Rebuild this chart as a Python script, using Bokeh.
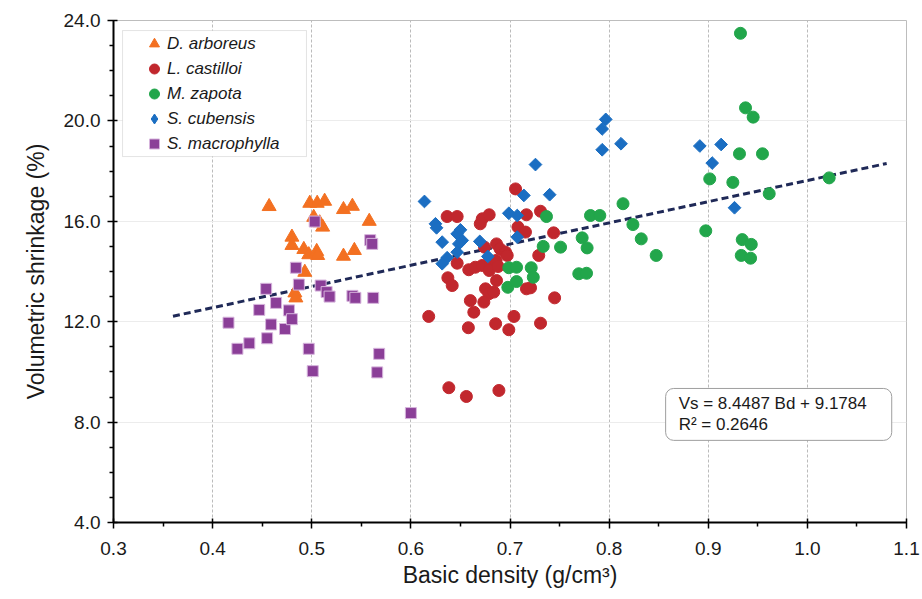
import numpy as np
from bokeh.plotting import figure
from bokeh.models import (Legend, LegendItem, FixedTicker, Label, Range1d,
                          PrintfTickFormatter, BoxAnnotation)
from bokeh.embed import file_html
from bokeh.resources import INLINE

# ---- data ----
arb_x = [0.457, 0.498, 0.5055, 0.513, 0.502, 0.508, 0.511, 0.532, 0.541, 0.558,
         0.480, 0.480, 0.492, 0.497, 0.505, 0.506, 0.532, 0.543, 0.493, 0.483, 0.484]
arb_y = [16.59, 16.72, 16.72, 16.80, 16.16, 15.94, 15.77, 16.47, 16.60, 16.0,
         15.37, 15.04, 14.88, 14.67, 14.80, 14.64, 14.61, 14.84, 13.97, 13.15, 12.95]

cas_x = [0.7056, 0.6366, 0.6467, 0.672, 0.679, 0.670, 0.7166, 0.7308, 0.708, 0.7156,
         0.744, 0.6864, 0.690, 0.6955, 0.6972, 0.6743, 0.6467, 0.6584, 0.665, 0.672,
         0.680, 0.679, 0.686, 0.688, 0.729, 0.6373, 0.6417, 0.6864, 0.6753, 0.6787,
         0.6836, 0.6736, 0.660, 0.6635, 0.7166, 0.7207, 0.745, 0.618, 0.658, 0.6855,
         0.6988, 0.704, 0.7308, 0.6383, 0.656, 0.6888]
cas_y = [17.29, 16.19, 16.19, 16.10, 16.26, 15.90, 16.26, 16.40, 15.77, 15.57,
         15.54, 15.10, 14.90, 14.77, 14.64, 14.97, 14.33, 14.07, 14.17, 14.24,
         14.31, 14.04, 14.44, 14.20, 14.64, 13.75, 13.44, 13.64, 13.31, 13.11,
         13.18, 12.78, 12.84, 12.38, 13.31, 13.35, 12.95, 12.21, 11.76, 11.92,
         11.68, 12.21, 11.94, 9.37, 9.02, 9.26]

zap_x = [0.7368, 0.7812, 0.7906, 0.7335, 0.751, 0.7728, 0.7778, 0.6988, 0.7066, 0.6978,
         0.7066, 0.7214, 0.7235, 0.7694, 0.7772, 0.814, 0.824, 0.8324, 0.8475, 0.9015,
         0.9248, 0.8975, 0.9343, 0.9434, 0.9333, 0.9427, 0.9315, 0.9547, 0.9615, 1.022,
         0.9325, 0.9376, 0.9453]
zap_y = [16.19, 16.23, 16.23, 15.0, 14.97, 15.34, 14.94, 14.15, 14.17, 13.37,
         13.60, 14.15, 13.77, 13.91, 13.93, 16.70, 15.87, 15.30, 14.64, 17.69,
         17.55, 15.62, 15.27, 15.08, 14.64, 14.53, 18.69, 18.69, 17.10, 17.73,
         23.49, 20.52, 20.15]

cub_x = [0.6137, 0.6248, 0.6259, 0.6316, 0.6467, 0.650, 0.6518, 0.6484, 0.6467, 0.6366,
         0.6316, 0.6695, 0.6776, 0.6988, 0.7073, 0.7073, 0.714, 0.740, 0.7257, 0.7966,
         0.793, 0.812, 0.793, 0.8915, 0.913, 0.904, 0.9265]
cub_y = [16.79, 15.90, 15.74, 15.17, 15.50, 15.66, 15.24, 15.10, 14.77, 14.55,
         14.31, 15.20, 14.60, 16.32, 16.23, 15.37, 17.03, 17.06, 18.26, 20.06,
         19.68, 19.09, 18.85, 19.0, 19.06, 18.32, 16.54]

mac_x = [0.416, 0.425, 0.437, 0.447, 0.454, 0.455, 0.459, 0.464, 0.473, 0.477,
         0.480, 0.484, 0.487, 0.497, 0.501, 0.503, 0.509, 0.515, 0.518, 0.541,
         0.544, 0.559, 0.561, 0.562, 0.566, 0.568, 0.600]
mac_y = [11.96, 10.92, 11.14, 12.47, 13.31, 11.34, 11.89, 12.75, 11.71, 12.45,
         12.10, 14.15, 13.48, 10.92, 10.03, 15.99, 13.44, 13.18, 13.0, 13.03,
         12.95, 15.25, 15.1, 12.95, 9.98, 10.72, 8.36]

series_names = ["D. arboreus", "L. castilloi", "M. zapota", "S. cubensis", "S. macrophylla"]

fit_slope = 8.4487
fit_intercept = 9.1784
fit_r2 = 0.2646
fit_x = [0.36, 1.08]

x_ticks = [0.3, 0.4, 0.5, 0.6, 0.7, 0.8, 0.9, 1.0, 1.1]
y_ticks = [4, 8, 12, 16, 20, 24]

FONT = "Liberation Sans"
C_ARB, C_CAS, C_ZAP, C_CUB, C_MAC = "#F37021", "#C1272D", "#22A64B", "#1B6EC2", "#8B3F98"

p = figure(width=920, height=591, x_range=Range1d(0.3, 1.1), y_range=Range1d(4, 24),
           output_backend="svg", toolbar_location=None,
           min_border_left=113, min_border_right=14, min_border_top=20,
           min_border_bottom=69)
p.background_fill_color = "white"
p.border_fill_color = "white"
p.outline_line_color = "#BDBDBD"
p.outline_line_width = 1

# grids
p.xgrid.ticker = FixedTicker(ticks=x_ticks[1:-1])
p.xgrid.grid_line_color = "#BBBBBB"
p.xgrid.grid_line_dash = "3 2"
p.xgrid.grid_line_width = 1
p.ygrid.ticker = FixedTicker(ticks=y_ticks[1:-1])
p.ygrid.grid_line_color = "#ECECEC"
p.ygrid.grid_line_width = 1

# axes
p.xaxis.ticker = FixedTicker(ticks=x_ticks,
                             minor_ticks=[round(t + 0.05, 2) for t in x_ticks[:-1]])
p.yaxis.ticker = FixedTicker(ticks=y_ticks,
                             minor_ticks=[v for v in range(4, 25) if v % 4])
p.xaxis.formatter = PrintfTickFormatter(format="%.1f")
p.yaxis.formatter = PrintfTickFormatter(format="%.1f")
for ax in (p.xaxis, p.yaxis):
    ax.axis_line_color = "black"
    ax.axis_line_width = 2
    ax.major_tick_line_color = "black"
    ax.major_tick_line_width = 1.5
    ax.minor_tick_line_color = "black"
    ax.minor_tick_line_width = 1.5
    ax.major_tick_in = 4
    ax.major_tick_out = 6
    ax.minor_tick_in = 0
    ax.minor_tick_out = 4
    ax.major_label_text_font = FONT
    ax.major_label_text_font_size = "19px"
    ax.major_label_text_color = "#1a1a1a"
    ax.axis_label_text_font = FONT
    ax.axis_label_text_font_size = "23px"
    ax.axis_label_text_font_style = "normal"
    ax.axis_label_text_color = "#1a1a1a"
p.xaxis.axis_label = "Basic density (g/cm\u00b3)"
p.yaxis.axis_label = "Volumetric shrinkage (%)"
p.xaxis.major_label_standoff = 13
p.xaxis.axis_label_standoff = 4
p.yaxis.major_label_standoff = 7
p.yaxis.axis_label_standoff = 12

# trend line
fit_y = [fit_slope * v + fit_intercept for v in fit_x]
p.line(fit_x, fit_y, line_color="#1F2957", line_width=3, line_dash="7 4")

# series
r_arb = p.scatter(arb_x, arb_y, marker="triangle", size=14, fill_color=C_ARB,
                  line_color=C_ARB)
r_cas = p.scatter(cas_x, cas_y, marker="circle", size=12, fill_color=C_CAS,
                  line_color=C_CAS)
r_zap = p.scatter(zap_x, zap_y, marker="circle", size=12, fill_color=C_ZAP,
                  line_color=C_ZAP)
r_cub = p.scatter(cub_x, cub_y, marker="square", angle=np.pi / 4, size=9,
                  fill_color=C_CUB, line_color=C_CUB)
r_mac = p.scatter(mac_x, mac_y, marker="square", size=11, fill_color=C_MAC,
                  line_color="#D6B4DC", line_width=1)
# legend-only glyph for the diamond marker (a single NaN point, never drawn)
r_cub_leg = p.scatter([np.nan], [np.nan], marker="diamond", size=12,
                      fill_color=C_CUB, line_color=C_CUB)

# legend frame
legend_box = BoxAnnotation(left=0.3091, right=0.4947, top=23.60, bottom=18.58,
                           fill_color="white", fill_alpha=1,
                           line_color="#A6A6A6", line_width=1)
p.add_layout(legend_box)

legend = Legend(items=[
    LegendItem(label=series_names[0], renderers=[r_arb]),
    LegendItem(label=series_names[1], renderers=[r_cas]),
    LegendItem(label=series_names[2], renderers=[r_zap]),
    LegendItem(label=series_names[3], renderers=[r_cub_leg]),
    LegendItem(label=series_names[4], renderers=[r_mac]),
], location=(28, 366))
legend.padding = 0
legend.margin = 0
legend.spacing = 0
legend.glyph_width = 26
legend.glyph_height = 25
legend.label_height = 25
legend.label_standoff = 0
legend.label_text_font = FONT
legend.label_text_font_size = "17px"
legend.label_text_font_style = "italic"
legend.label_text_color = "#1a1a1a"
legend.border_line_color = None
legend.background_fill_alpha = 0
p.add_layout(legend)

eq = Label(x=0.857, y=9.34, anchor="top_left",
           text="Vs = %.4f Bd + %.4f\nR\u00b2 = %.4f" % (fit_slope, fit_intercept, fit_r2),
           text_font=FONT, text_font_size="17px", text_color="#1a1a1a",
           background_fill_color="white", border_line_color="#9E9E9E",
           border_line_width=1, border_radius=8, padding=(13, 25, 6, 6),
           text_line_height=1.1)
p.add_layout(eq)

open("out.html", "w").write(file_html(p, INLINE))
